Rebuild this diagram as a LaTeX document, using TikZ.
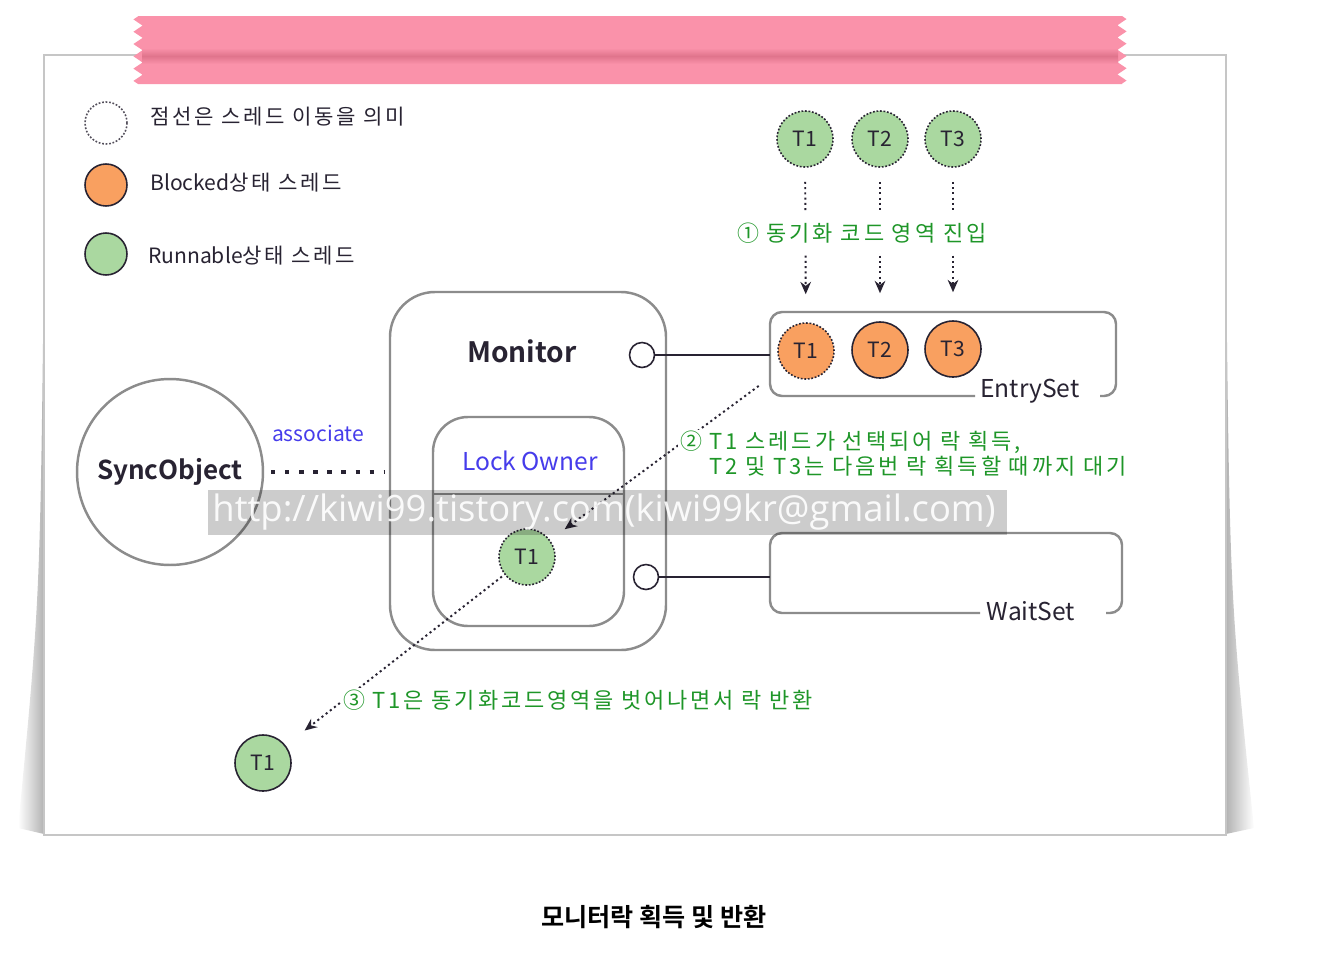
\documentclass[tikz,border=0pt]{standalone}
\usepackage{fontspec}
\setmainfont{Noto Sans CJK KR}[BoldFont={Noto Sans CJK KR Bold}]
\newfontfamily\krwide{Noto Sans CJK KR}[LetterSpace=13]
\newfontfamily\wmfont{Open Sans}
\usetikzlibrary{arrows.meta,decorations.pathmorphing}

\definecolor{tapePink}{RGB}{250,146,170}
\definecolor{tapeDark}{RGB}{224,116,140}
\definecolor{runGreen}{RGB}{170,216,160}
\definecolor{blockOrange}{RGB}{249,160,96}
\definecolor{boxGray}{RGB}{140,140,140}
\definecolor{noteGreen}{RGB}{30,150,40}
\definecolor{ownerBlue}{RGB}{70,60,235}
\definecolor{inkDark}{RGB}{40,35,50}

\tikzset{
  thread/.style={circle, draw=inkDark, line width=0.9pt, minimum size=1.12cm,
    inner sep=0pt, text=inkDark, font=\fontsize{12}{14}\selectfont},
  runnable/.style={thread, fill=runGreen},
  blocked/.style={thread, fill=blockOrange},
  moving/.style={dash pattern=on 1pt off 1pt},
  legendmark/.style={circle, draw=inkDark, line width=0.9pt, minimum size=0.84cm, inner sep=0pt},
  legendtext/.style={anchor=west, text=inkDark, font=\fontsize{12}{14}\selectfont},
  framebox/.style={draw=boxGray, line width=1.4pt},
  ring/.style={circle, draw=inkDark, line width=0.9pt, fill=white, minimum size=0.5cm, inner sep=0pt},
  flow/.style={draw=inkDark, line width=1.1pt, dash pattern=on 1.2pt off 1.8pt,
    -{Stealth[length=7pt,width=6pt]}},
  stepnote/.style={anchor=west, text=noteGreen, fill=white, inner sep=1pt,
    font=\krwide\fontsize{12.5}{14.2}\selectfont},
  setlabel/.style={text=inkDark, font=\fontsize{14}{16}\selectfont},
}

\begin{document}
\begin{tikzpicture}[x=0.02cm, y=-0.02cm]
\useasboundingbox (0,0) rectangle (1318,960);

% paper with curled shadow
\shade[left color=white, right color=gray!60] (44,260) .. controls (40,600) .. (18,828) -- (44,834) -- cycle;
\shade[left color=gray!60, right color=white] (1226,260) .. controls (1230,600) .. (1254,828) -- (1226,834) -- cycle;
\fill[white, draw=gray!45, line width=0.6pt] (44,55) rectangle (1226,835);

% tape
\fill[tapePink] (138,16) -- (1122,16)
  decorate[decoration={zigzag, segment length=7pt, amplitude=2.6pt}] {-- (1122,84)}
  -- (138,84)
  decorate[decoration={zigzag, segment length=7pt, amplitude=2.6pt}] {-- (138,16)} -- cycle;
\shade[top color=tapePink, bottom color=tapePink, middle color=tapeDark] (142,48) rectangle (1118,64);

% legend
\node[legendmark, draw=inkDark!80, moving] (lgMove) at (106,123) {};
\node[legendtext] (lgMoveTxt) at (144,117) {\krwide 점선은 스레드 이동을 의미};
\node[legendmark, fill=blockOrange] (lgBlock) at (106,185) {};
\node[legendtext] (lgBlockTxt) at (144,183) {Blocked{\krwide 상태 스레드}};
\node[legendmark, fill=runGreen] (lgRun) at (106,254) {};
\node[legendtext] (lgRunTxt) at (142,256) {Runnable{\krwide 상태 스레드}};

% monitor
\draw[framebox, rounded corners=0.9cm] (390,292) rectangle (666,650);
\node[font=\fontsize{16}{18}\selectfont\bfseries, text=inkDark] (monTitle) at (522,351) {Monitor};
\draw[framebox, rounded corners=0.7cm] (433,417) rectangle (624,626);
\draw[framebox] (433,494) -- (624,494);
\node[text=ownerBlue, font=\fontsize{14}{16}\selectfont] (ownerTxt) at (530,461) {Lock Owner};
\node[ring] (ringEntry) at (642,355) {};
\node[ring] (ringWait) at (646,577) {};

% sync object
\node[circle, framebox, minimum size=3.72cm] (sync) at (170,472) {};
\node[text=inkDark, font=\fontsize{14.8}{17}\selectfont\bfseries] (syncTxt) at (170,472) {SyncObject};
\node[text=ownerBlue, font=\fontsize{12}{14}\selectfont] (assocTxt) at (318,433) {associate};
\coordinate (monW) at (384,472);
\draw[inkDark, line width=2.4pt, dash pattern=on 2.4pt off 5.6pt, shorten <=7*0.02cm] (sync.east) -- (monW);

% entry set
\draw[framebox, rounded corners=0.24cm] (975,396) -- (770,396) -- (770,312) -- (1116,312) -- (1116,396) -- (1100,396);
\node[setlabel] (entryTxt) at (1030,391) {EntrySet};
\coordinate (entryW) at (770,355);
\draw[inkDark, line width=0.9pt] (ringEntry) -- (entryW);
\node[blocked, moving] (eT1) at (806,351) {T1};
\node[blocked] (eT2) at (880,350) {T2};
\node[blocked] (eT3) at (953,349) {T3};

% wait set
\draw[framebox, rounded corners=0.24cm] (980,613) -- (770,613) -- (770,533) -- (1122,533) -- (1122,613) -- (1106,613);
\node[setlabel] (waitTxt) at (1031,611) {WaitSet};
\coordinate (waitW) at (770,577);
\draw[inkDark, line width=0.9pt] (ringWait) -- (waitW);

% incoming threads
\node[runnable, moving] (tT1) at (805,139) {T1};
\node[runnable, moving] (tT2) at (880,139) {T2};
\node[runnable, moving] (tT3) at (953,139) {T3};
\foreach \n in {1,2,3}
  \draw[flow, shorten <=0.28cm, shorten >=0.56cm] (tT\n) -- (eT\n);
\node[stepnote, inner ysep=6pt] (step1) at (735,233) {① 동기화 코드 영역 진입};

% owner and released threads
\node[runnable, moving] (lT1) at (527,557) {T1};
\node[runnable] (bT1) at (263,763) {T1};
\draw[flow, shorten <=0.6cm, shorten >=0.36cm] (eT1) -- (lT1);
\node[stepnote, align=left] (step2) at (678,454) {② T1 스레드가 선택되어 락 획득,\\\phantom{② }T2 및 T3는 다음번 락 획득할 때까지 대기};
\draw[flow, shorten <=0.06cm, shorten >=0.48cm] (lT1) -- (bT1);
\node[stepnote] (step3) at (341,700) {③ T1은 동기화코드영역을 벗어나면서 락 반환};

% watermark
\fill[black, fill opacity=0.2] (208,490) rectangle (1007,535);
\node[text=white, text opacity=0.9, font=\wmfont\fontsize{20.7}{22}\selectfont] (wm) at (604,512) {http://kiwi99.tistory.com(kiwi99kr@gmail.com)};

% caption
\node[font=\fontsize{14.3}{16}\selectfont\bfseries] (caption) at (654,917) {모니터락 획득 및 반환};
\end{tikzpicture}
\end{document}
